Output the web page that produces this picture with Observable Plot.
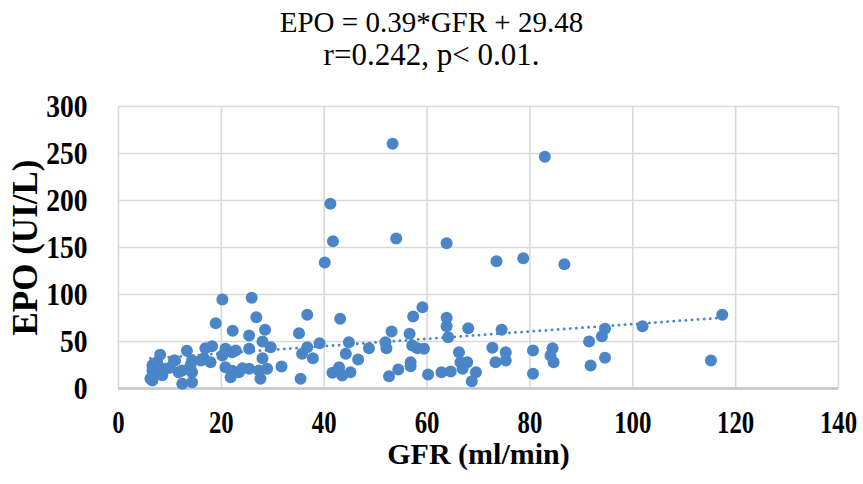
<!DOCTYPE html>
<html>
<head>
<meta charset="utf-8">
<script src="https://cdn.jsdelivr.net/npm/d3@7"></script>
<script src="https://cdn.jsdelivr.net/npm/@observablehq/plot@0.6"></script>
<style>
  body { margin: 0; background: #fff; }
  #wrap { width: 863px; }
  #titles { height: 80px; position: relative; }
  .title { position: absolute; left: 0; width: 863px; font-family: "Liberation Serif", serif; text-align: center; color: #000; line-height: 34px; }
  #t1 { top: 5px; font-size: 29px; }
  #t2 { top: 38px; font-size: 31px; }
</style>
</head>
<body>
<div id="wrap">
  <div id="titles">
    <div class="title" id="t1"></div>
    <div class="title" id="t2"></div>
  </div>
  <div id="chart"></div>
</div>
<script>
const titleLine1 = "EPO = 0.39*GFR + 29.48";
const titleLine2 = "r=0.242, p< 0.01.";
const xLabel = "GFR (ml/min)";
const yLabel = "EPO (UI/L)";
const xTicks = [0, 20, 40, 60, 80, 100, 120, 140];
const yTicks = [0, 50, 100, 150, 200, 250, 300];

// GFR (ml/min) values
const gfr = [
  53.3, 41.2, 41.7, 54.0, 63.8, 40.1, 73.5, 82.9, 78.7, 86.7,
  20.2, 18.9, 8.1, 13.3, 16.9, 18.2, 20.8, 22.1, 11.0, 14.3,
  16.6, 17.9, 20.2, 6.6, 7.2, 9.1, 11.7, 14.3, 6.6, 12.4,
  14.3, 20.8, 22.1, 23.4, 6.9, 10.8, 16.0, 14.0, 12.4, 6.6,
  6.2, 21.8, 8.5, 10.0, 7.5,
  22.2, 25.9, 26.8, 28.5, 35.1, 28.0, 29.6, 25.4, 22.8, 28.0,
  31.7, 24.1, 25.4, 27.3, 28.9, 27.6, 35.4, 25.4,
  36.7, 43.1, 36.7, 39.1, 35.7, 37.8, 44.8, 44.2, 41.6, 42.9,
  43.5, 45.1, 46.6,
  59.1, 57.3, 63.8, 63.8, 64.1, 53.1, 56.6, 48.7, 51.9, 52.1,
  57.1, 58.1, 59.4, 56.8, 56.8, 54.4, 52.6, 60.2, 62.8, 64.6,
  66.2, 66.5,
  68.0, 74.5, 67.8, 69.5, 68.7, 66.9, 72.7, 73.3, 75.3, 75.3,
  80.6, 80.6, 84.4, 84.0, 84.6,
  117.4, 101.9, 94.6, 94.0, 91.5, 94.6, 91.8, 115.2
];
// EPO (UI/L) values
const epo = [
  260.3, 196.5, 156.7, 159.6, 154.6, 134.0, 135.4, 246.5, 138.6, 132.2,
  94.7, 69.5, 35.8, 40.1, 42.9, 45.0, 42.2, 38.6, 29.8, 29.8,
  32.3, 28.0, 35.1, 24.5, 17.3, 21.0, 17.3, 17.3, 8.5, 5.0,
  6.7, 22.7, 19.0, 17.3, 26.2, 29.8, 29.8, 24.5, 19.1, 19.1,
  10.3, 12.0, 14.0, 22.0, 28.0,
  61.4, 96.5, 75.9, 62.4, 58.9, 50.0, 44.0, 42.2, 40.4, 32.3,
  23.4, 21.6, 21.0, 19.1, 21.0, 10.3, 10.3, 56.4,
  78.4, 74.1, 44.0, 48.2, 36.9, 32.3, 49.3, 36.9, 16.7, 22.7,
  13.8, 17.3, 30.9,
  86.5, 76.6, 75.2, 66.3, 54.6, 60.6, 58.2, 42.9, 49.3, 42.9,
  45.7, 42.9, 42.2, 28.0, 23.7, 20.2, 13.1, 14.9, 17.3, 18.1,
  38.6, 28.0,
  64.2, 62.4, 28.0, 17.3, 7.8, 21.0, 43.3, 28.0, 38.6, 29.8,
  40.4, 15.6, 42.9, 35.0, 28.0,
  78.4, 66.3, 63.5, 55.7, 50.0, 32.6, 24.5, 29.8
];
// trend line endpoints
const trendGfr = [6.2, 117.4];
const trendEpo = [31.9, 75.3];

document.getElementById("t1").textContent = titleLine1;
document.getElementById("t2").textContent = titleLine2;

const points = gfr.map((g, i) => ({gfr: g, epo: epo[i]}));
const trend = trendGfr.map((g, i) => ({gfr: g, epo: trendEpo[i]}));

const blue = "#4a86c7";
const font = "'Liberation Serif', 'Times New Roman', serif";

const chart = Plot.plot({
  width: 863,
  height: 404,
  marginTop: 26,
  marginBottom: 96,
  marginLeft: 118,
  marginRight: 25,
  style: {fontFamily: font, background: "#fff"},
  x: {domain: [0, 140]},
  y: {domain: [0, 300]},
  marks: [
    Plot.gridX(xTicks, {stroke: "#d9d9d9", strokeOpacity: 1, strokeWidth: 1.6}),
    Plot.gridY(yTicks, {stroke: "#d9d9d9", strokeOpacity: 1, strokeWidth: 1.6}),
    Plot.ruleY([0], {stroke: "#c6c6c6", strokeWidth: 2.5}),
    Plot.line(trend, {x: "gfr", y: "epo", stroke: blue, strokeWidth: 2.8, strokeDasharray: "0.1,6", strokeLinecap: "round"}),
    Plot.dot(points, {x: "gfr", y: "epo", r: 6, fill: blue, stroke: "none"}),
    Plot.axisX(xTicks, {
      tickSize: 0, tickPadding: 22, fontSize: 31, fontWeight: "bold", fontFamily: font, fill: "#000", label: null
    }),
    Plot.axisY(yTicks, {
      tickSize: 0, tickPadding: 31, fontSize: 32, fontWeight: "bold", fontFamily: font, fill: "#000", label: null
    }),
    Plot.text([xLabel], {
      text: d => d, frameAnchor: "bottom", lineAnchor: "middle", dy: 66,
      fontSize: 30, fontWeight: "bold", fontFamily: font, fill: "#000"
    }),
    Plot.text([yLabel], {
      text: d => d, frameAnchor: "left", textAnchor: "middle", lineAnchor: "middle", rotate: -90, dx: -93,
      fontSize: 35, fontWeight: "bold", fontFamily: font, fill: "#000"
    })
  ]
});
document.getElementById("chart").appendChild(chart);

// the reference's tick numbers are slightly condensed
function condense(selector, k) {
  chart.querySelectorAll(selector).forEach(t => {
    const w = t.getComputedTextLength();
    t.setAttribute("textLength", (w * k).toFixed(1));
    t.setAttribute("lengthAdjust", "spacingAndGlyphs");
  });
}
condense('g[aria-label="x-axis tick label"] text', 0.8);
condense('g[aria-label="y-axis tick label"] text', 0.86);
</script>
</body>
</html>
